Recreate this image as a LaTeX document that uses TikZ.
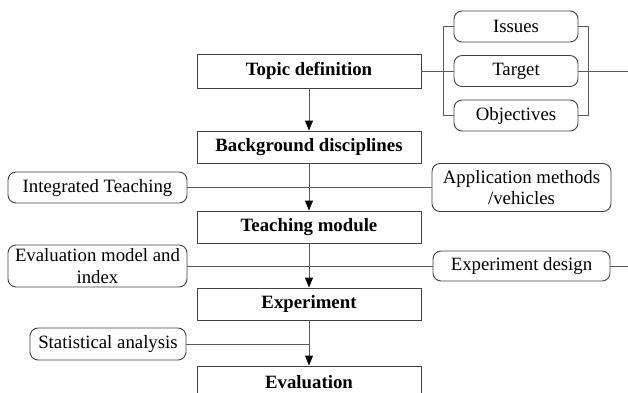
\documentclass[tikz,border=0pt]{standalone}
\usepackage{fontspec}
\setmainfont{Liberation Serif}
\usetikzlibrary{arrows.meta,calc}
\begin{document}
\begin{tikzpicture}[x=1pt,y=-1pt,
  every node/.style={font=\fontsize{18.8}{21.5}\selectfont, inner sep=0pt, align=center},
  mainbox/.style={draw=black!75, line width=0.9pt, minimum width=224pt, minimum height=32pt, font=\fontsize{18.8}{21.5}\selectfont\bfseries},
  sidebox/.style={draw=black!75, line width=0.9pt, rounded corners=8pt},
  conn/.style={draw=black!65, line width=0.9pt},
  arr/.style={conn, -{Triangle[length=10pt,width=8pt,color=black]}}
]
\useasboundingbox (0,0) rectangle (628,392);
\clip (0,0) rectangle (628,392);
% main column
\node[mainbox, minimum height=34pt] (topic) at (309,71) {Topic definition};
\node[mainbox] (bg) at (309,147) {Background disciplines};
\node[mainbox] (teach) at (309,227) {Teaching module};
\node[mainbox] (exp) at (309,304) {Experiment};
\node[mainbox] (eval) at (309,382) {Evaluation};
% side boxes
\node[sidebox, minimum width=124pt, minimum height=31pt] (issues) at (516,26.5) {Issues};
\node[sidebox, minimum width=124pt, minimum height=31pt] (target) at (516,71) {Target};
\node[sidebox, minimum width=124pt, minimum height=31pt] (obj) at (516,115.5) {Objectives};
\node[sidebox, minimum width=179pt, minimum height=31pt] (integ) at (97.5,187.5) {Integrated Teaching};
\node[sidebox, minimum width=179pt, minimum height=48pt] (appl) at (521.5,187.5) {Application methods\\/vehicles};
\node[sidebox, minimum width=179pt, minimum height=42pt] (evmod) at (97.5,266) {Evaluation model and\\index};
\node[sidebox, minimum width=177pt, minimum height=30pt] (expd) at (521.5,266) {Experiment design};
\node[sidebox, minimum width=156pt, minimum height=32pt] (stat) at (108,344) {Statistical analysis};
% coordinates
\coordinate (lb) at (443,0);
\coordinate (rb) at (588,0);
\coordinate (tgtend) at (628,71);
\coordinate (expdend) at (628,266);
% arrows
\draw[arr] (topic) -- (bg);
\draw[arr] (bg) -- (teach);
\draw[arr] (teach) -- (exp);
\draw[arr] (exp) -- (eval);
% horizontal feeds
\draw[conn] (integ.east) -- (integ.east -| bg.south);
\draw[conn] (appl.west) -- (appl.west -| bg.south);
\draw[conn] (evmod.east) -- (expd.west);
\draw[conn] (expd.east) -- (expdend);
\draw[conn] (stat.east) -- (stat.east -| exp.south);
% topic bracket
\draw[conn] (topic.east) -- (target.west);
\draw[conn] (issues.west) -- (issues.west -| lb) -- (obj.west -| lb) -- (obj.west);
\draw[conn] (issues.east) -- (issues.east -| rb) -- (obj.east -| rb) -- (obj.east);
\draw[conn] (target.east) -- (tgtend);
\end{tikzpicture}
\end{document}
